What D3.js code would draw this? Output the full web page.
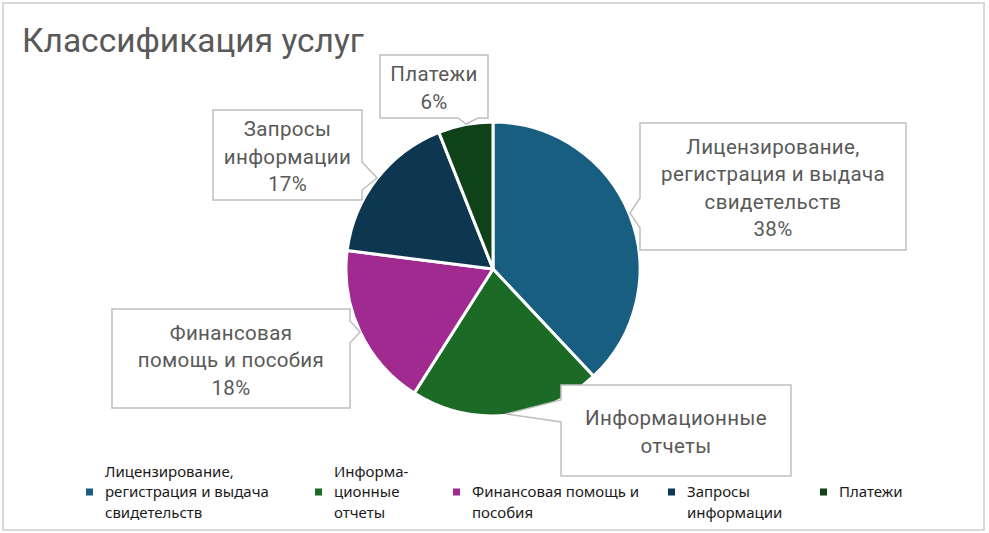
<!DOCTYPE html>
<html><head><meta charset="utf-8">
<script src="https://cdn.jsdelivr.net/npm/d3@7"></script>
<style>body{margin:0;background:#fff}</style>
</head><body><svg id="c" width="989" height="533"></svg>
<script>
// ---- data ----
const title = "Классификация услуг";
const categories = ["Лицензирование, регистрация и выдача свидетельств","Информационные отчеты","Финансовая помощь и пособия","Запросы информации","Платежи"];
const values = [38, 21, 18, 17, 6];
const colors = ["#175E80","#1B6B26","#A02A8F","#0D3650","#10421A"];
const labelLines = [["Лицензирование,","регистрация и выдача","свидетельств"],["Информационные","отчеты"],["Финансовая","помощь и пособия"],["Запросы","информации"],["Платежи"]];
const showPercent = [true, false, true, true, true];
const legendLines = [["Лицензирование,","регистрация и выдача","свидетельств"],["Информа-","ционные","отчеты"],["Финансовая помощь и","пособия"],["Запросы","информации"],["Платежи"]];

// ---- layout ----
const W = 989, H = 533;
const cx = 493, cy = 269, R = 147;
const callouts = [
  {x:640,y:123,w:266,h:127,side:"left",b0:198,b1:228,tip:[630,213]},
  {x:561,y:385,w:230,h:91,side:"left",b0:400,b1:422,tip:[506,414]},
  {x:112,y:309,w:238,h:99,side:"right",b0:321,b1:343,tip:[360,332]},
  {x:213,y:110,w:149,h:90,side:"right",b0:162,b1:190,tip:[377,178]},
  {x:380,y:55,w:108,h:63,side:"bottom",b0:458,b1:478,tip:[466,124]}
];
const legendX = [86, 315, 453, 668, 820];
const legendMarkerY = 492;

const svg = d3.select("#c");
svg.append("rect").attr("x",3).attr("y",3).attr("width",981).attr("height",527)
  .attr("fill","#fff").attr("stroke","#d9d9d9").attr("stroke-width",2);

svg.append("text").attr("x",22).attr("y",52).text(title)
  .attr("font-family","Roboto").attr("font-size",33.5).attr("fill","#595959");

const total = d3.sum(values);
const pie = d3.pie().sort(null).value(d=>d)(values);
const arc = d3.arc().innerRadius(0).outerRadius(R);
const g = svg.append("g").attr("transform",`translate(${cx},${cy})`);
g.selectAll("path").data(pie).join("path").attr("d",arc)
  .attr("fill",(d,i)=>colors[i]).attr("stroke","#fff").attr("stroke-width",3).attr("stroke-linejoin","round");

// callouts
function calloutPath(c){
  const x0=c.x,y0=c.y,x1=c.x+c.w,y1=c.y+c.h,[tx,ty]=c.tip;
  if(c.side==="left") return `M${x0},${y0}H${x1}V${y1}H${x0}V${c.b1}L${tx},${ty}L${x0},${c.b0}Z`;
  if(c.side==="right") return `M${x0},${y0}H${x1}V${c.b0}L${tx},${ty}L${x1},${c.b1}V${y1}H${x0}Z`;
  return `M${x0},${y0}H${x1}V${y1}H${c.b1}L${tx},${ty}L${c.b0},${y1}H${x0}Z`;
}
const fmt = v => Math.round(v/total*100)+"%";
callouts.forEach((c,i)=>{
  svg.append("path").attr("d",calloutPath(c)).attr("fill","#fff").attr("stroke","#bfbfbf").attr("stroke-width",1.5);
  const lines = labelLines[i].slice();
  if(showPercent[i]) lines.push(fmt(values[i]));
  const lh = 27.5, fs = 20.5;
  const mid = c.y + c.h/2 + 1.5;
  const t = svg.append("text").attr("text-anchor","middle").attr("font-family","Roboto")
    .attr("font-size",fs).attr("letter-spacing",0.35).attr("fill","#595959");
  lines.forEach((s,k)=>{
    t.append("tspan").attr("x",c.x+c.w/2)
      .attr("y", mid + (k-(lines.length-1)/2)*lh + fs*0.35).text(s);
  });
});

// legend
legendLines.forEach((ls,i)=>{
  svg.append("rect").attr("x",legendX[i]).attr("y",legendMarkerY-3.5).attr("width",7).attr("height",7).attr("fill",colors[i]);
  const lh = 20.5, fs = 15;
  const startY = ls.length===3 ? legendMarkerY - lh : legendMarkerY;
  const t = svg.append("text").attr("font-family","Noto Sans").attr("font-size",fs).attr("fill","#1a1a1a");
  ls.forEach((s,k)=>{
    t.append("tspan").attr("x",legendX[i]+19).attr("y",startY + k*lh + fs*0.35).text(s);
  });
});
</script></body></html>
